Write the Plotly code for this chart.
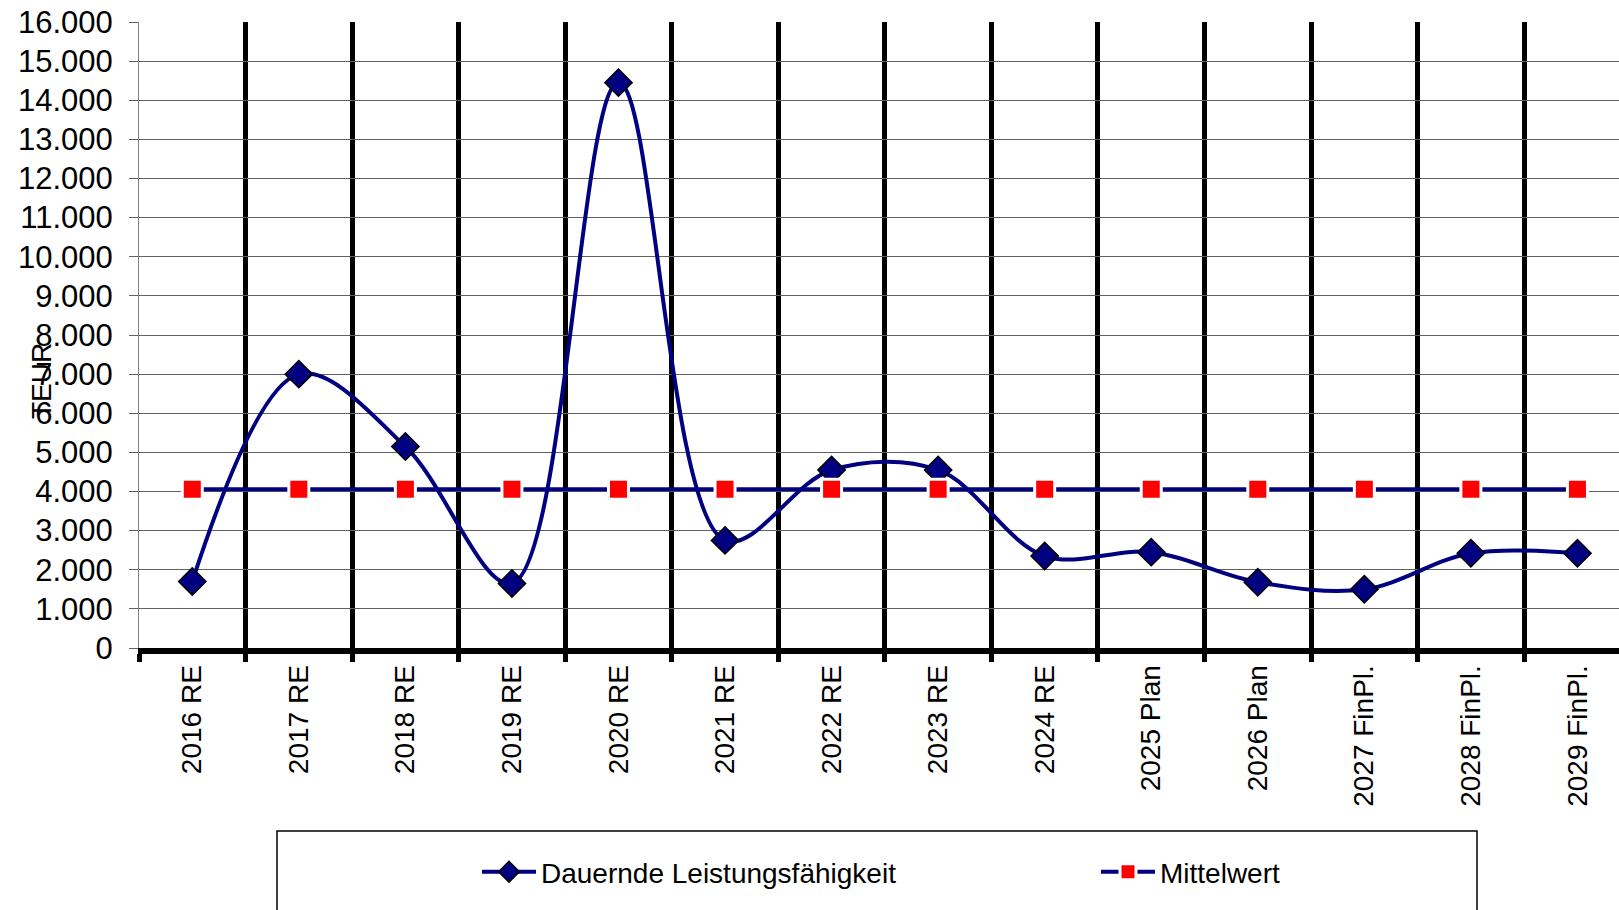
import plotly.graph_objects as go

categories = ["2016 RE", "2017 RE", "2018 RE", "2019 RE", "2020 RE", "2021 RE", "2022 RE",
              "2023 RE", "2024 RE", "2025 Plan", "2026 Plan", "2027 FinPl.", "2028 FinPl.", "2029 FinPl."]
leistung = [1700, 7000, 5150, 1650, 14450, 2750, 4550, 4550, 2350, 2450, 1680, 1500, 2420, 2420]
mittelwert = [4060] * 14

FONT = "Arial, Liberation Sans, sans-serif"
NAVY = "#000080"

fig = go.Figure()
fig.add_trace(go.Scatter(
    x=categories, y=leistung, name="Dauernde Leistungsfähigkeit",
    mode="lines+markers",
    line=dict(color=NAVY, width=4, shape="spline", smoothing=1),
    marker=dict(symbol="diamond", size=21, color=NAVY, line=dict(color="black", width=1.5)),
))
fig.add_trace(go.Scatter(
    x=categories, y=mittelwert, name="Mittelwert",
    mode="lines+markers",
    line=dict(color=NAVY, width=4),
    marker=dict(symbol="square", size=20, color="#FF0000", line=dict(color="white", width=3)),
))

# body margin is removed by the post script, so figure coords == screen coords
W, H = 1619, 910
L, R, T = 139, 0, 22
BOTTOM = 648
B = H - BOTTOM
pw = W - L - R
ph = H - T - B

def px(xs):
    return (xs - L) / pw

def py(ys):
    return (BOTTOM - ys) / ph

fig.update_layout(
    width=W, height=H,
    margin=dict(l=L, r=R, t=T, b=B, autoexpand=False),
    paper_bgcolor="white", plot_bgcolor="white",
    separators=",.",
    font=dict(family=FONT, size=28, color="black"),
    showlegend=True,
    legend=dict(
        orientation="h", x=px(477), xanchor="left",
        y=py(872), yanchor="middle",
        font=dict(family=FONT, size=28, color="black"),
        bgcolor="rgba(0,0,0,0)", borderwidth=0,
        itemwidth=54, entrywidthmode="pixels", entrywidth=550,
        tracegroupgap=0,
    ),
    xaxis=dict(
        type="category", range=[-0.5, 13.39],
        tickson="boundaries", showgrid=True, gridcolor="black", gridwidth=5,
        showline=True, linecolor="black", linewidth=6,
        ticks="outside", ticklen=8, tickwidth=5, tickcolor="black",
        tickangle=-90, tickfont=dict(family=FONT, size=28, color="black"),
        automargin=False, zeroline=False,
    ),
    yaxis=dict(
        range=[0, 16000], dtick=1000, tickformat=",.0f",
        showgrid=True, gridcolor="#606060", gridwidth=1,
        showline=True, linecolor="#808080", linewidth=1,
        ticks="outside", ticklen=9, tickwidth=1, tickcolor="#606060",
        ticklabelstandoff=10, ticklabeloverflow="allow",
        tickfont=dict(family=FONT, size=31, color="black"),
        automargin=False, zeroline=False,
    ),
    annotations=[dict(
        text="TEUR", xref="paper", yref="paper",
        x=px(41), y=py(381), xanchor="center", yanchor="middle",
        textangle=-90, showarrow=False, font=dict(family=FONT, size=28, color="black"),
    )],
    shapes=[dict(
        type="rect", xref="paper", yref="paper",
        x0=px(277), x1=px(1477),
        y0=py(930), y1=py(831),
        line=dict(color="black", width=1.5), fillcolor="rgba(0,0,0,0)", layer="below",
    )],
)

fig.write_html(
    "out.html",
    config={"displayModeBar": False},
    post_script="document.body.style.margin='0';document.body.style.overflow='hidden';",
)
